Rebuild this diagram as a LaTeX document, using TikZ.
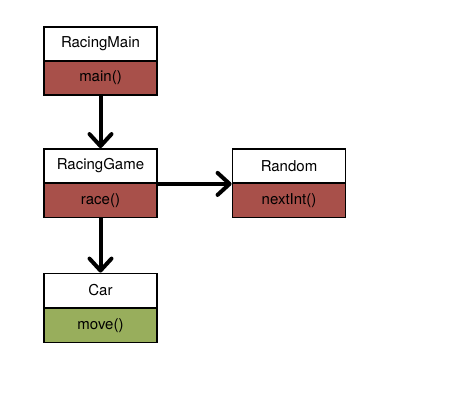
\documentclass[tikz,border=0pt]{standalone}
\usepackage{fontspec}
\setmainfont{TeX Gyre Heros}
\usetikzlibrary{arrows.meta}
\definecolor{methred}{RGB}{168,80,74}
\definecolor{methgreen}{RGB}{152,174,92}
\begin{document}
\begin{tikzpicture}[x=1pt,y=-1pt,
  head/.style={draw=black,line width=1.8pt,fill=white,minimum width=113pt,minimum height=34pt,inner sep=0pt,font=\fontsize{15}{17}\selectfont},
  meth/.style={draw=black,line width=1.8pt,minimum width=113pt,minimum height=34pt,inner sep=0pt,font=\fontsize{15}{17}\selectfont},
  callarrow/.style={line width=4pt,-{Straight Barb[length=12pt,width=22pt,line width=4pt,round]}}]
\useasboundingbox (0,0) rectangle (458,406);
\fill[white] (0,0) rectangle (458,406);
% RacingMain
\node[meth,fill=methred] (mainm) at (100.5,78) {main()};
\node[head] (main) at (100.5,44) {RacingMain};
% RacingGame
\node[meth,fill=methred] (gamem) at (100.5,200.5) {race()};
\node[head] (game) at (100.5,166) {RacingGame};
% Random
\node[meth,fill=methred] (randm) at (289,200.5) {nextInt()};
\node[head] (rand) at (289,166) {Random};
% Car
\node[meth,fill=methgreen] (carm) at (100.5,325.5) {move()};
\node[head] (car) at (100.5,290.5) {Car};
% connectors
\draw[callarrow] (mainm.south) -- (game.north);
\draw[callarrow] (gamem.south) -- (car.north);
\draw[callarrow] (game.south east) -- (rand.south west);
\end{tikzpicture}
\end{document}
